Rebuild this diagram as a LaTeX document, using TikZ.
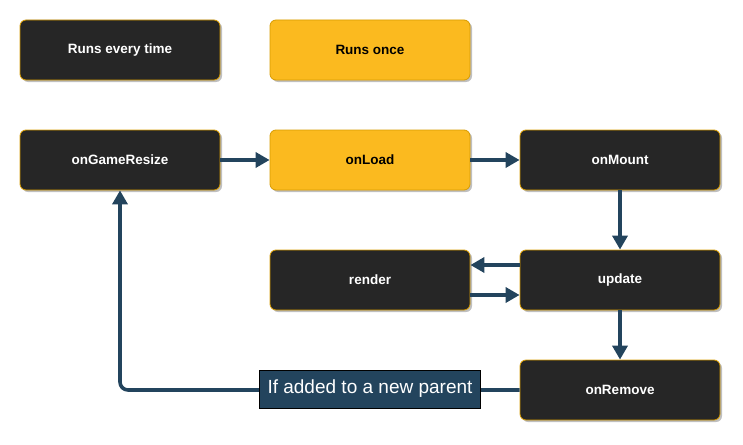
\documentclass[tikz,border=0pt]{standalone}
\usepackage{fontspec}
\setmainfont{Liberation Sans}
\usetikzlibrary{arrows.meta,shadows}
\definecolor{boxdark}{HTML}{262626}
\definecolor{boxline}{HTML}{D79B00}
\definecolor{boxyellow}{HTML}{FBBA1F}
\definecolor{flow}{HTML}{23445D}

\begin{document}
\begin{tikzpicture}[x=1pt,y=-1pt,
  hook/.style={draw=boxline, line width=0.8pt, rounded corners=6pt, minimum width=200pt, minimum height=60pt, font=\fontsize{13.5}{15}\selectfont\bfseries, drop shadow={shadow xshift=2pt, shadow yshift=-2pt, fill=black!25, opacity=1}},
  every/.style={hook, fill=boxdark, text=white},
  once/.style={hook, fill=boxyellow, text=black},
  flowline/.style={draw=flow, line width=3.6pt, -{Triangle[length=14pt,width=15pt]}}]
\useasboundingbox (0,0) rectangle (743,444);

\node[every] (legendA) at (120,50) {Runs every time};
\node[once] (legendB) at (370,50) {Runs once};

\node[every] (resize) at (120,160) {onGameResize};
\node[once] (load) at (370,160) {onLoad};
\node[every] (mount) at (620,160) {onMount};
\node[every] (render) at (370,280) {render};
\node[every] (update) at (620,280) {update};
\node[every] (remove) at (620,390) {onRemove};

\draw[flowline] (resize) -- (load);
\draw[flowline] (load) -- (mount);
\draw[flowline] (mount) -- (update);
\draw[flowline] (update.west |- 0,265) -- (render.east |- 0,265);
\draw[flowline] (render.east |- 0,295) -- (update.west |- 0,295);
\draw[flowline] (update) -- (remove);
\draw[flowline, rounded corners=8pt] (remove.west) -- (resize.south |- remove.west) -- (resize.south);

\node[draw=black, fill=flow, text=white, font=\fontsize{19}{21}\selectfont, inner xsep=8pt, minimum height=38pt] (cond) at (370,389) {If added to a new parent};
\end{tikzpicture}
\end{document}
